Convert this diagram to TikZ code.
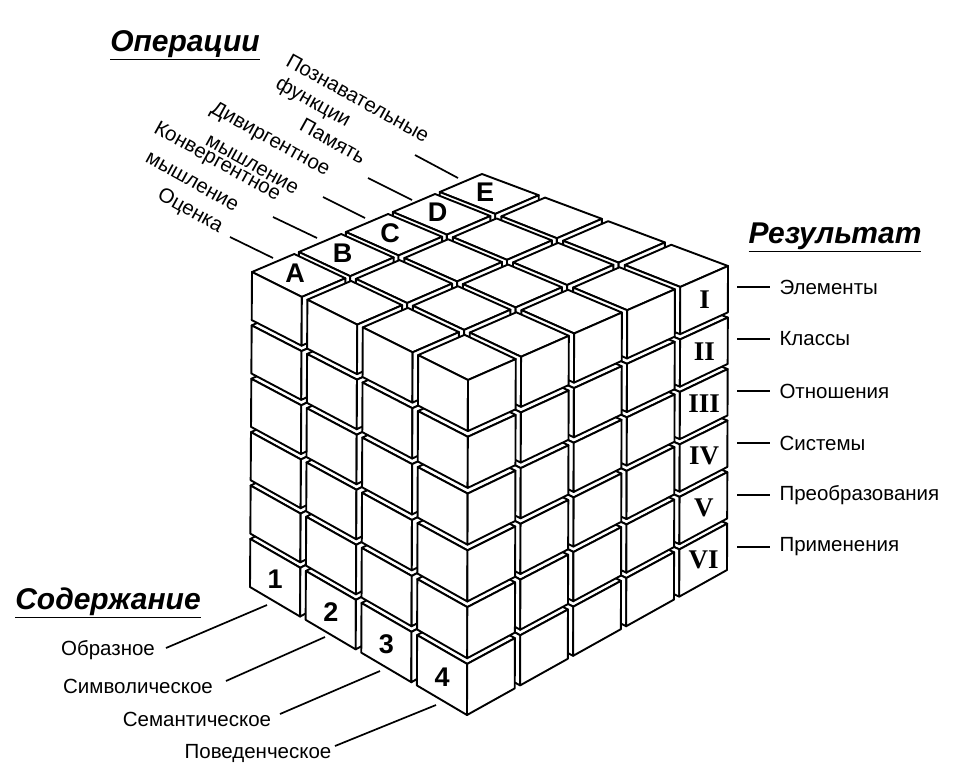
\documentclass[tikz,border=0pt]{standalone}
\usepackage{fontspec}
\setmainfont{Liberation Sans}
\newfontfamily\romfont{Liberation Serif}
\usepackage{tikz}
\usetikzlibrary{calc}

\tikzset{
  face/.style={draw, fill=white, line width=1.9pt, line join=round},
  lbl/.style={font=\fontsize{20.5}{22}\selectfont},
  title/.style={font=\fontsize{30}{32}\selectfont\bfseries\itshape},
  oplbl/.style={lbl, rotate=-29, inner sep=1pt},
  tick/.style={line width=1.7pt},
  mark letter/.style={font=\fontsize{27}{29}\selectfont\bfseries},
  mark roman/.style={font=\fontsize{27}{29}\selectfont\romfont\bfseries},
}
\newcommand{\sz}{0.9}
% point of the block, from fractions along content, operation, height
\newcommand{\tl}[3]{($ ($ ($(c000)!#1!(c100)$)!#2!($(c010)!#1!(c110)$) $)!#3!($ ($(c001)!#1!(c101)$)!#2!($(c011)!#1!(c111)$) $) $)}

\begin{document}
\begin{tikzpicture}[x=1pt,y=-1pt]
 \useasboundingbox (0,0) rectangle (978,780);

 % corners of the whole block
 \coordinate (c000) at (250,587);
 \coordinate (c100) at (467,715);
 \coordinate (c110) at (727,570);
 \coordinate (c010) at (482,462);
 \coordinate (c001) at (252,272);
 \coordinate (c101) at (468,380);
 \coordinate (c111) at (728,266);
 \coordinate (c011) at (482,174);

 % the small cubes, back to front
 \foreach \b in {4,3,2,1,0}
  \foreach \a in {0,1,2,3}
   \foreach \c in {0,...,5} {
    \pgfmathsetmacro\ua{\a/3.9}\pgfmathsetmacro\ub{(\a+\sz)/3.9}
    \pgfmathsetmacro\va{\b/4.9}\pgfmathsetmacro\vb{(\b+\sz)/4.9}
    \pgfmathsetmacro\wa{\c/5.9}\pgfmathsetmacro\wb{(\c+\sz)/5.9}
    \draw[face] \tl{\ua}{\va}{\wb} -- \tl{\ub}{\va}{\wb} -- \tl{\ub}{\vb}{\wb} -- \tl{\ua}{\vb}{\wb} -- cycle;
    \draw[face] \tl{\ua}{\va}{\wa} -- \tl{\ub}{\va}{\wa} -- \tl{\ub}{\va}{\wb} -- \tl{\ua}{\va}{\wb} -- cycle;
    \draw[face] \tl{\ub}{\va}{\wa} -- \tl{\ub}{\vb}{\wa} -- \tl{\ub}{\vb}{\wb} -- \tl{\ub}{\va}{\wb} -- cycle;
   }
 \foreach \l [count=\i from 0] in {A,B,C,D,E} {
  \pgfmathsetmacro\vm{(\i+0.45)/4.9}
  \node[mark letter] (op\l) at \tl{0.1}{\vm}{1} {\l};
 }
 \foreach \n [count=\i from 0] in {1,2,3,4} {
  \pgfmathsetmacro\um{(\i+0.45)/3.9}
  \node[mark letter] (ct\n) at \tl{\um}{0}{0.07} {\n};
 }
 \foreach \r [count=\i from 0] in {VI,V,IV,III,II,I} {
  \pgfmathsetmacro\wm{(\i+0.45)/5.9}
  \node[mark roman] (rs\r) at \tl{1}{0.91}{\wm} {\r};
 }

 % operations
 \node[title] (opsTitle) at (185,45) {\underline{Операции}};
 \node[oplbl] (opEval) at (190,211) {Оценка};
 \node[oplbl] (opConv) at (217,162) {Конвергентное};
 \node[oplbl] (opConvB) at (192,182) {мышление};
 \node[oplbl] (opDiv) at (270,140) {Дивиргентное};
 \node[oplbl] (opDivB) at (252,165) {мышление};
 \node[oplbl] (opMem) at (333,141) {Память};
 \node[oplbl] (opCog) at (358,98) {Познавательные};
 \node[oplbl] (opCogB) at (313,103) {функции};
 \draw[tick] (230,237) -- (273,258);
 \draw[tick] (273,217) -- (317,238);
 \draw[tick] (323,197) -- (365,218);
 \draw[tick] (368,178) -- (412,200);
 \draw[tick] (415,155) -- (458,178);

 % results
 \node[title] (resTitle) at (835,237) {\underline{Результат}};
 \foreach \t [count=\i from 0] in {Элементы,Классы,Отношения,Системы,Преобразования,Применения} {
  \draw[tick] (737,287+52*\i) -- (770,287+52*\i);
  \node[lbl, anchor=west] (res\i) at (776,287+52*\i) {\t};
 }

 % contents
 \node[title] (ctTitle) at (108,603) {\underline{Содержание}};
 \node[lbl] (ctImg) at (108,650) {Образное};
 \node[lbl] (ctSym) at (138,686) {Символическое};
 \node[lbl] (ctSem) at (197,719) {Семантическое};
 \node[lbl] (ctBeh) at (258,753) {Поведенческое};
 \draw[tick] (166,648) -- (267,605);
 \draw[tick] (226,681) -- (325,637);
 \draw[tick] (280,714) -- (380,671);
 \draw[tick] (335,746) -- (436,705);
\end{tikzpicture}
\end{document}
